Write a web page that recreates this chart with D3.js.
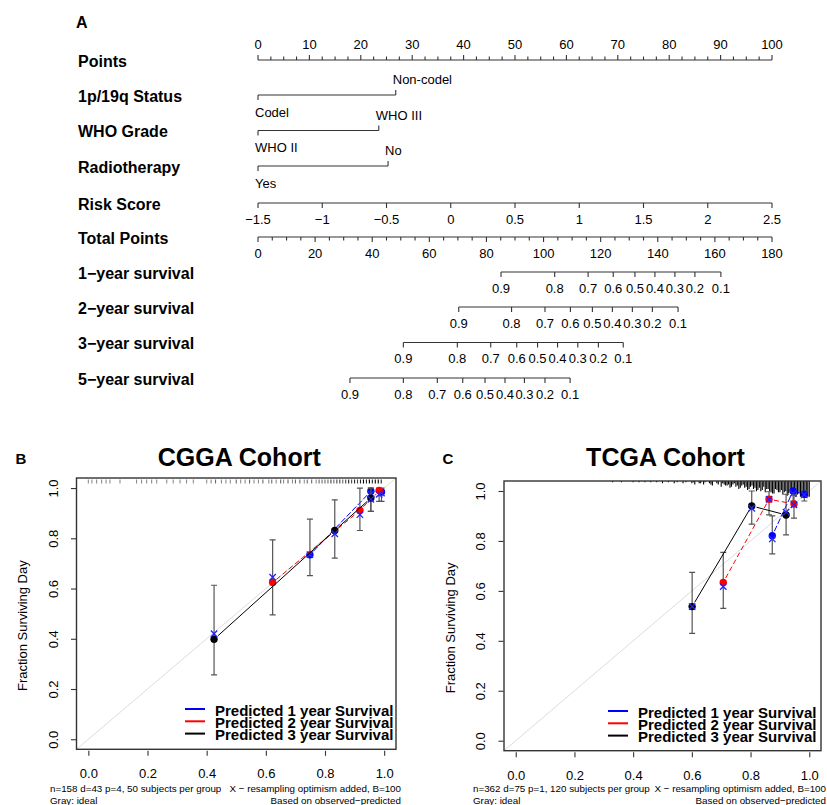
<!DOCTYPE html>
<html>
<head>
<meta charset="utf-8">
<script src="https://cdn.jsdelivr.net/npm/d3@7"></script>
<style>
  body { margin: 0; background: #fff; }
  svg text { font-family: "Liberation Sans", Arial, Helvetica, sans-serif; fill: #000; }
</style>
</head>
<body>
<div id="chart-area"></div>
<script>
// ---------- data : nomogram ----------
var rowNames = ["Points", "1p/19q Status", "WHO Grade", "Radiotherapy", "Risk Score",
  "Total Points", "1\u2212year survival", "2\u2212year survival", "3\u2212year survival", "5\u2212year survival"];
var pointTicks = [0, 10, 20, 30, 40, 50, 60, 70, 80, 90, 100];
var statusLevels = ["Codel", "Non-codel"];
var statusPoints = [0, 26.8];
var gradeLevels = ["WHO II", "WHO III"];
var gradePoints = [0, 23.5];
var radioLevels = ["Yes", "No"];
var radioPoints = [0, 25.3];
var riskTicks = [-1.5, -1, -0.5, 0, 0.5, 1, 1.5, 2, 2.5];
var totalTicks = [0, 20, 40, 60, 80, 100, 120, 140, 160, 180];
var survProbs = [0.9, 0.8, 0.7, 0.6, 0.5, 0.4, 0.3, 0.2, 0.1];
var surv1yr = [85.1, 103.9, 115.6, 124.4, 132.0, 139.0, 146.0, 153.0, 162.1];
var surv2yr = [70.3, 88.8, 100.5, 109.4, 117.1, 124.1, 131.1, 138.1, 147.1];
var surv3yr = [50.9, 69.8, 81.5, 90.6, 97.9, 104.9, 112.0, 119.2, 127.9];
var surv5yr = [32.2, 50.9, 62.8, 71.7, 79.5, 86.5, 93.3, 100.5, 109.3];

// ---------- data : calibration, rows = [predicted, observed, lower, upper, corrected] ----------
var cgga1yr = [[0.749, 0.734, 0.651, 0.876, 0.735], [0.955, 0.987, 0.907, 1.0, 0.975], [0.991, 0.984, 0.947, 1.0, 0.98]];
var cgga2yr = [[0.623, 0.624, 0.495, 0.794, 0.645], [0.918, 0.911, 0.831, 1.0, 0.894], [0.983, 0.99, 0.947, 1.0, 0.975]];
var cgga3yr = [[0.425, 0.398, 0.256, 0.613, 0.42], [0.833, 0.831, 0.721, 0.953, 0.818], [0.955, 0.96, 0.907, 1.0, 0.955]];
var tcga1yr = [[0.874, 0.821, 0.748, 0.9, 0.808], [0.945, 1.0, 0.96, 1.0, 0.99], [0.983, 0.987, 0.96, 1.0, 0.985]];
var tcga2yr = [[0.707, 0.634, 0.530, 0.754, 0.617], [0.863, 0.967, 0.904, 0.997, 0.967], [0.948, 0.948, 0.891, 0.984, 0.945]];
var tcga3yr = [[0.601, 0.537, 0.430, 0.674, 0.537], [0.804, 0.940, 0.867, 1.0, 0.931], [0.921, 0.904, 0.824, 0.987, 0.915]];
var calTicks = [0, 0.2, 0.4, 0.6, 0.8, 1.0];
var legendNames = ["Predicted 1 year Survival", "Predicted 2 year Survival", "Predicted 3 year Survival"];

// rug of predicted values (value, count)
var cggaRugP = [0.00, 0.012, 0.028, 0.045, 0.06, 0.073, 0.107, 0.163, 0.18, 0.197, 0.214, 0.231, 0.265, 0.287, 0.31, 0.332, 0.355,
  0.40, 0.415, 0.43, 0.45, 0.465, 0.48, 0.50, 0.515, 0.53, 0.545, 0.56, 0.575, 0.59,
  0.61, 0.62, 0.635, 0.65, 0.66, 0.675, 0.69, 0.70, 0.715, 0.73, 0.74, 0.755, 0.77, 0.78, 0.79, 0.80,
  0.81, 0.82, 0.83, 0.84, 0.85, 0.86, 0.87, 0.88, 0.89, 0.90, 0.91, 0.92, 0.93, 0.94, 0.95, 0.96, 0.97, 0.98, 0.99];
var cggaRugN = [1, 1, 1, 1, 1, 1, 1, 1, 1, 1, 1, 1, 1, 1, 1, 1, 1,
  1, 1, 2, 1, 1, 1, 2, 1, 1, 2, 1, 1, 2,
  1, 2, 1, 2, 1, 2, 1, 2, 2, 1, 2, 2, 1, 2, 2, 2,
  2, 3, 2, 3, 3, 2, 3, 4, 3, 4, 3, 4, 5, 4, 5, 4, 5, 5, 4];
var tcgaRugP = [0.33, 0.36, 0.40, 0.42, 0.44, 0.46, 0.48, 0.50, 0.52, 0.54, 0.55, 0.57, 0.58,
  0.60, 0.605, 0.61, 0.625, 0.63, 0.64, 0.645, 0.66, 0.665, 0.67, 0.685, 0.69,
  0.70, 0.705, 0.71, 0.715, 0.72, 0.725, 0.73, 0.735, 0.74, 0.745, 0.75, 0.755, 0.76, 0.765, 0.77, 0.775,
  0.78, 0.785, 0.79, 0.795, 0.80, 0.805, 0.81, 0.815, 0.82, 0.825, 0.83, 0.835, 0.84, 0.845, 0.85, 0.855,
  0.86, 0.865, 0.87, 0.875, 0.88, 0.885, 0.89, 0.895, 0.90, 0.905, 0.91, 0.915, 0.92, 0.925, 0.93, 0.935,
  0.94, 0.945, 0.95, 0.955, 0.96, 0.965, 0.97, 0.975, 0.98, 0.985, 0.99, 0.995, 1.00];
var tcgaRugN = [1, 1, 1, 1, 1, 1, 1, 2, 1, 2, 1, 2, 1,
  2, 1, 3, 2, 2, 3, 1, 2, 3, 4, 2, 3,
  5, 2, 3, 4, 4, 3, 6, 5, 3, 2, 5, 4, 7, 6, 4, 3,
  6, 5, 8, 7, 5, 4, 7, 6, 9, 8, 6, 9, 8, 5, 10, 7,
  7, 9, 9, 11, 11, 7, 8, 10, 10, 8, 12, 10, 9, 13, 11, 9,
  13, 12, 10, 14, 12, 11, 14, 13, 13, 15, 15, 14, 14];

var svg = d3
  .select("#chart-area")
  .append("svg")
  .attr("width", 827)
  .attr("height", 805);

var ink = "#333";

// ================= A : nomogram =================
var rowY = [60, 95, 130.5, 166, 203, 237, 272, 307, 342.5, 378];
var xPts = d3.scaleLinear().domain([0, 100]).range([258, 772]);
var xTot = d3.scaleLinear().domain([0, 180]).range([258, 772]);
var xRisk = d3.scaleLinear().domain([-1.5, 2.5]).range([258, 772]);
var fmtMinus = (v) => String(v).replace("-", "\u2212");

svg.append("text")
  .attr("x", 76).attr("y", 22)
  .attr("font-size", 16).attr("font-weight", "bold")
  .attr("dominant-baseline", "central")
  .text("A");

svg.selectAll("text.row")
  .data(rowNames)
  .enter()
  .append("text")
  .attr("class", "row")
  .attr("x", 78)
  .attr("y", (d, i) => rowY[i] + 1)
  .attr("font-size", 16)
  .attr("font-weight", "bold")
  .attr("dominant-baseline", "central")
  .text((d) => d);

var nomo = svg.append("g").attr("stroke", ink).attr("stroke-width", 1.1).attr("fill", "none");

function hline(x0, x1, y) {
  nomo.append("line").attr("x1", x0).attr("x2", x1).attr("y1", y).attr("y2", y);
}
function ticks(xs, y, len) {
  nomo.selectAll(null)
    .data(xs)
    .enter()
    .append("line")
    .attr("x1", (d) => d).attr("x2", (d) => d)
    .attr("y1", y).attr("y2", y + len);
}
function labels(xs, txt, y, anchor) {
  svg.selectAll(null)
    .data(xs)
    .enter()
    .append("text")
    .attr("x", (d) => d)
    .attr("y", y)
    .attr("font-size", 13)
    .attr("text-anchor", anchor || "middle")
    .attr("dominant-baseline", "central")
    .text((d, i) => txt[i]);
}

// Points
hline(xPts(0), xPts(100), rowY[0]);
ticks(pointTicks.map(xPts), rowY[0], -5);
ticks(d3.range(0, 100.1, 2.5).filter((v) => v % 10 !== 0).map(xPts), rowY[0], -3.5);
labels(pointTicks.map(xPts), pointTicks, rowY[0] - 16);

// categorical rows
function catRow(levels, pts, y) {
  hline(xPts(pts[0]), xPts(pts[1]), y);
  ticks([xPts(pts[0])], y, 5);
  ticks([xPts(pts[1])], y, -5);
  labels([xPts(pts[0]) - 3], [levels[0]], y + 17, "start");
  labels([xPts(pts[1]) - 3], [levels[1]], y - 15.5, "start");
}
catRow(statusLevels, statusPoints, rowY[1]);
catRow(gradeLevels, gradePoints, rowY[2]);
catRow(radioLevels, radioPoints, rowY[3]);

// Risk score
hline(xRisk(-1.5), xRisk(2.5), rowY[4]);
ticks(riskTicks.map(xRisk), rowY[4], 5);
labels(riskTicks.map(xRisk), riskTicks.map(fmtMinus), rowY[4] + 16);

// Total points
hline(xTot(0), xTot(180), rowY[5]);
ticks(totalTicks.map(xTot), rowY[5], 5);
ticks(d3.range(0, 180.1, 5).filter((v) => v % 20 !== 0).map(xTot), rowY[5], 3.5);
labels(totalTicks.map(xTot), totalTicks, rowY[5] + 16);

// survival scales
[surv1yr, surv2yr, surv3yr, surv5yr].forEach((s, k) => {
  var y = rowY[6 + k];
  hline(xTot(s[0]), xTot(s[s.length - 1]), y);
  ticks(s.map(xTot), y, 5);
  labels(s.map(xTot), survProbs, y + 16);
});

// ================= B / C : calibration =================
var curveCols = ["#0000ff", "#ff0000", "#000000"];
var curveDash = ["6,2", "5,3", null];

function drawCal(cfg) {
  var x = d3.scaleLinear().domain([-0.04, 1.04]).range([cfg.left, cfg.right]);
  var y = d3.scaleLinear().domain([-0.04, 1.04]).range([cfg.bottom, cfg.top]);
  var g = svg.append("g");

  // panel letter and title
  svg.append("text")
    .attr("x", cfg.letterX).attr("y", 458)
    .attr("font-size", 15).attr("font-weight", "bold")
    .attr("text-anchor", "middle").attr("dominant-baseline", "central")
    .text(cfg.letter);
  svg.append("text")
    .attr("x", (cfg.left + cfg.right) / 2 + 3).attr("y", 457)
    .attr("font-size", 25).attr("font-weight", "bold")
    .attr("text-anchor", "middle").attr("dominant-baseline", "central")
    .text(cfg.title);

  // clip region
  var clipId = "clip" + cfg.letter;
  svg.append("clipPath").attr("id", clipId)
    .append("rect")
    .attr("x", cfg.left).attr("y", cfg.top)
    .attr("width", cfg.right - cfg.left).attr("height", cfg.bottom - cfg.top);
  var inner = g.append("g").attr("clip-path", "url(#" + clipId + ")");

  // ideal line
  inner.append("line")
    .attr("x1", x(-0.04)).attr("y1", y(-0.04))
    .attr("x2", x(1.04)).attr("y2", y(1.04))
    .attr("stroke", "#dcdcdc").attr("stroke-width", 1);

  // rug
  if (cfg.rugMode === "shade") {
    var op = d3.scaleLinear().domain([1, 5]).range([0.45, 1]);
    inner.selectAll(null)
      .data(cfg.rugP)
      .enter()
      .append("line")
      .attr("x1", (d) => x(d)).attr("x2", (d) => x(d))
      .attr("y1", cfg.top + 1.5).attr("y2", cfg.top + 5.5)
      .attr("stroke", "#000")
      .attr("stroke-opacity", (d, i) => op(cfg.rugN[i]))
      .attr("stroke-width", 1.1);
  } else {
    var hs = d3.scaleLinear().domain([0, 15]).range([0, 17]);
    inner.selectAll(null)
      .data(cfg.rugP)
      .enter()
      .append("line")
      .attr("x1", (d) => x(d)).attr("x2", (d) => x(d))
      .attr("y1", cfg.top).attr("y2", (d, i) => cfg.top + hs(cfg.rugN[i]))
      .attr("stroke", "#000")
      .attr("stroke-width", 1.1);
  }

  cfg.curves.forEach((c, k) => {
    // error bars
    var eb = inner.append("g").attr("stroke", "#555").attr("stroke-width", 1.2);
    c.forEach((r) => {
      eb.append("line").attr("x1", x(r[0])).attr("x2", x(r[0])).attr("y1", y(r[2])).attr("y2", y(r[3]));
      eb.append("line").attr("x1", x(r[0]) - 3).attr("x2", x(r[0]) + 3).attr("y1", y(r[2])).attr("y2", y(r[2]));
      eb.append("line").attr("x1", x(r[0]) - 3).attr("x2", x(r[0]) + 3).attr("y1", y(r[3])).attr("y2", y(r[3]));
    });
    // observed line with gaps round the points (type = "b")
    for (var i = 0; i < c.length - 1; i++) {
      var ax = x(c[i][0]), ay = y(c[i][1]), bx = x(c[i + 1][0]), by = y(c[i + 1][1]);
      var dd = Math.hypot(bx - ax, by - ay), gap = 5;
      if (dd > 2 * gap) {
        var ux = (bx - ax) / dd, uy = (by - ay) / dd;
        inner.append("line")
          .attr("x1", ax + ux * gap).attr("y1", ay + uy * gap)
          .attr("x2", bx - ux * gap).attr("y2", by - uy * gap)
          .attr("stroke", curveCols[k]).attr("stroke-width", 1)
          .attr("stroke-dasharray", curveDash[k]);
      }
    }
    // observed points
    inner.selectAll(null)
      .data(c)
      .enter()
      .append("circle")
      .attr("cx", (r) => x(r[0])).attr("cy", (r) => y(r[1]))
      .attr("r", 3.7)
      .attr("fill", curveCols[k]);
    // bias-corrected estimates
    inner.selectAll(null)
      .data(c)
      .enter()
      .append("path")
      .attr("d", (r) => {
        var px = x(r[0]), py = y(r[4]), s = 3.2;
        return "M" + (px - s) + "," + (py - s) + "L" + (px + s) + "," + (py + s) +
          "M" + (px - s) + "," + (py + s) + "L" + (px + s) + "," + (py - s);
      })
      .attr("stroke", "#2222ff").attr("stroke-width", 1.3).attr("fill", "none");
  });

  // box
  g.append("rect")
    .attr("x", cfg.left).attr("y", cfg.top)
    .attr("width", cfg.right - cfg.left).attr("height", cfg.bottom - cfg.top)
    .attr("fill", "none").attr("stroke", ink).attr("stroke-width", 1.4);

  // x axis
  var xa = g.append("g")
    .attr("transform", "translate(0," + (cfg.bottom + 1.5) + ")")
    .call(d3.axisBottom(x).tickValues(calTicks).tickSize(5).tickFormat(d3.format(".1f")));
  xa.select(".domain").remove();
  xa.selectAll("line").attr("stroke", ink).attr("stroke-width", 1.1);
  xa.selectAll("text")
    .attr("y", 23).attr("dy", null)
    .attr("dominant-baseline", "central")
    .attr("font-size", 13).attr("font-family", null);

  // y axis
  var ya = g.append("g")
    .attr("transform", "translate(" + (cfg.left - 0.5) + ",0)")
    .call(d3.axisLeft(y).tickValues(calTicks).tickSize(5).tickFormat(d3.format(".1f")));
  ya.select(".domain").remove();
  ya.selectAll("line").attr("stroke", ink).attr("stroke-width", 1.1);
  ya.selectAll("text")
    .attr("x", 0).attr("dy", null)
    .attr("text-anchor", "middle")
    .attr("dominant-baseline", "central")
    .attr("transform", "translate(-23,0) rotate(-90)")
    .attr("font-size", 13).attr("font-family", null);

  svg.append("text")
    .attr("transform", "translate(" + cfg.ylabX + "," + ((cfg.top + cfg.bottom) / 2 + 12) + ") rotate(-90)")
    .attr("text-anchor", "middle").attr("dominant-baseline", "central")
    .attr("font-size", 13)
    .text("Fraction Surviving Day");

  // footnotes
  var fn = [[cfg.footL, cfg.footLX, 788, "start"], ["Gray: ideal", cfg.footLX, 800, "start"],
    ["X \u2212 resampling optimism added, B=100", cfg.footRX, 788, "end"],
    ["Based on observed\u2212predicted", cfg.footRX, 800, "end"]];
  svg.selectAll(null)
    .data(fn)
    .enter()
    .append("text")
    .attr("x", (d) => d[1]).attr("y", (d) => d[2])
    .attr("text-anchor", (d) => d[3])
    .attr("dominant-baseline", "central")
    .attr("font-size", 9.8)
    .text((d) => d[0]);

  // legend
  var lg = svg.append("g");
  legendNames.forEach((name, k) => {
    var ly = cfg.legY + k * 12.3;
    lg.append("line")
      .attr("x1", cfg.legX).attr("x2", cfg.legX + 20)
      .attr("y1", ly).attr("y2", ly)
      .attr("stroke", curveCols[k]).attr("stroke-width", 2);
    lg.append("text")
      .attr("x", cfg.legX + 30).attr("y", ly + 1)
      .attr("font-size", 15).attr("font-weight", "bold")
      .attr("dominant-baseline", "central")
      .text(name);
  });
}

drawCal({
  letter: "B", letterX: 21, title: "CGGA Cohort",
  left: 76.5, right: 396, top: 478, bottom: 749.3,
  curves: [cgga1yr, cgga2yr, cgga3yr],
  rugP: cggaRugP, rugN: cggaRugN, rugMode: "shade",
  ylabX: 22, footL: "n=158 d=43 p=4, 50 subjects per group", footLX: 50, footRX: 401,
  legX: 185, legY: 709
});

drawCal({
  letter: "C", letterX: 448, title: "TCGA Cohort",
  left: 504, right: 821, top: 481, bottom: 750.7,
  curves: [tcga1yr, tcga2yr, tcga3yr],
  rugP: tcgaRugP, rugN: tcgaRugN, rugMode: "spike",
  ylabX: 450, footL: "n=362 d=75 p=1, 120 subjects per group", footLX: 473, footRX: 826,
  legX: 608, legY: 711
});
</script>
</body>
</html>
